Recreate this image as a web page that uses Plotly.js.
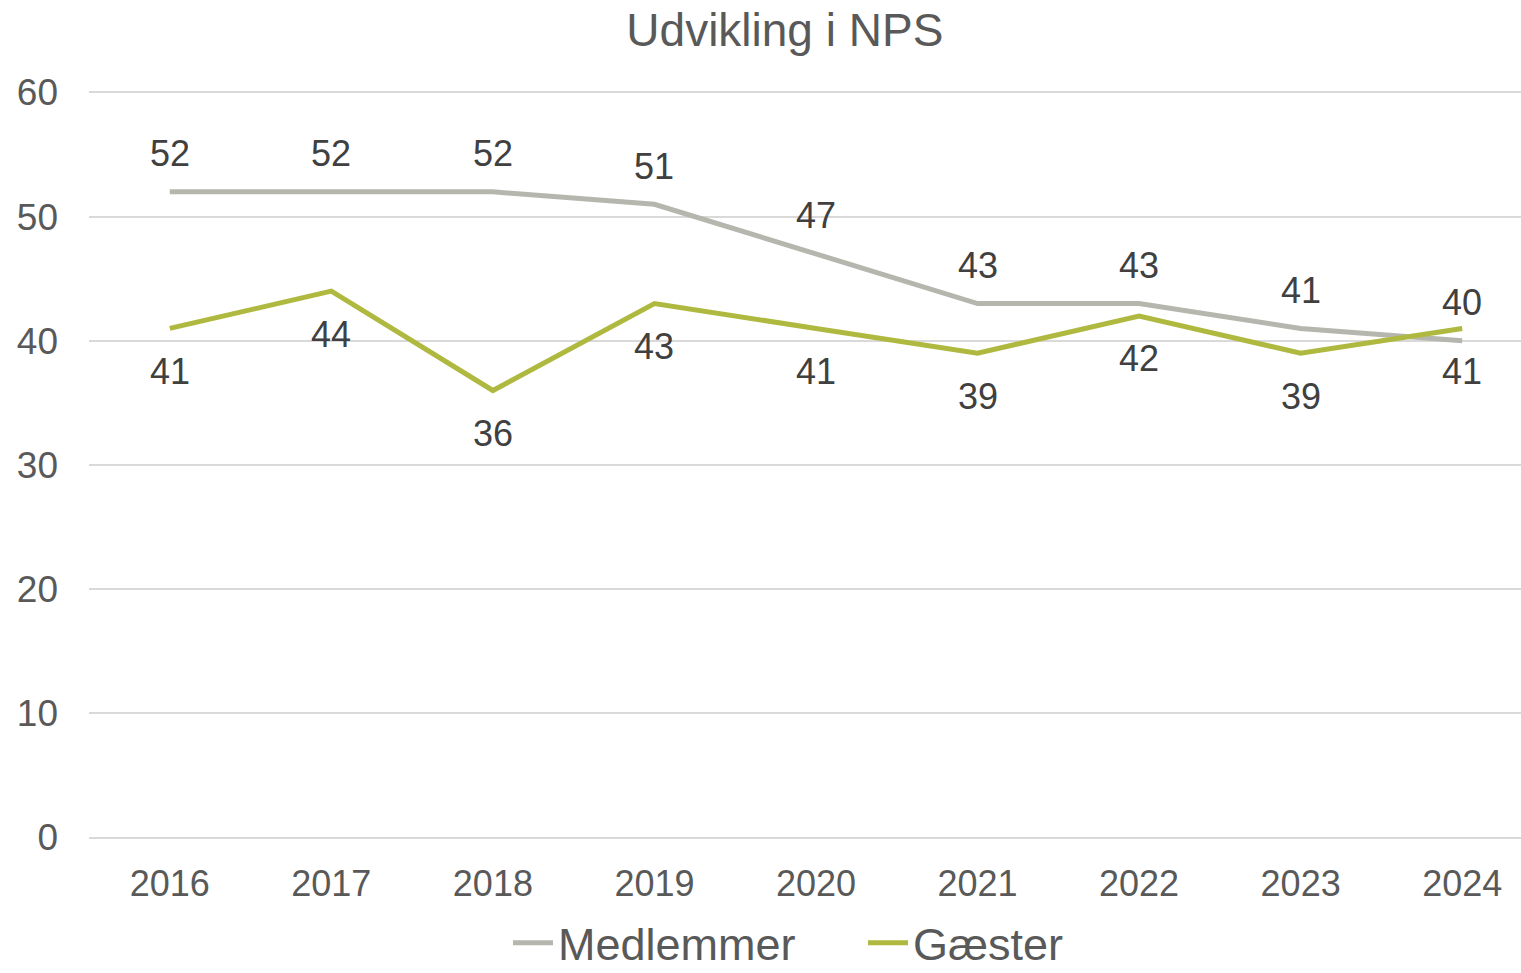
<!DOCTYPE html>
<html>
<head>
<meta charset="utf-8">
<script src="https://cdn.plot.ly/plotly-3.0.1.min.js"></script>
<style>html,body{margin:0;padding:0;background:#fff;}#chart{width:1521px;height:973px;}</style>
</head>
<body>
<div id="chart"></div>
<script>
const years = ["2016","2017","2018","2019","2020","2021","2022","2023","2024"];
const medlemmer = [52,52,52,51,47,43,43,41,40];
const gaester = [41,44,36,43,41,39,42,39,41];
const yTicks = [0,10,20,30,40,50,60];

const FONT = "Liberation Sans, Arial, sans-serif";
const grayC = "#b5b6ad";
const greenC = "#afb940";

const traces = [
  {x: years, y: medlemmer, name: "Medlemmer", type: "scatter", mode: "lines",
   line: {color: grayC, width: 5}, hoverinfo: "skip"},
  {x: years, y: gaester, name: "Gæster", type: "scatter", mode: "lines",
   line: {color: greenC, width: 5}, hoverinfo: "skip"}
];

const annotations = [];
years.forEach((yr, i) => {
  annotations.push({x: i, y: medlemmer[i], xref: "x", yref: "y", text: String(medlemmer[i]),
    showarrow: false, yshift: 38, font: {family: FONT, size: 36, color: "#404040"}});
  annotations.push({x: i, y: gaester[i], xref: "x", yref: "y", text: String(gaester[i]),
    showarrow: false, yshift: -43, font: {family: FONT, size: 36, color: "#404040"}});
});

const layout = {
  width: 1521, height: 973,
  margin: {l: 89, r: 0, t: 90, b: 133},
  paper_bgcolor: "#fff", plot_bgcolor: "#fff",
  font: {family: FONT, color: "#595959"},
  title: {text: "Udvikling i NPS", x: 0.516, xref: "container", xanchor: "center",
          y: 1 - 30/973, yref: "container", yanchor: "middle",
          font: {family: FONT, size: 46, color: "#595959"}},
  xaxis: {type: "category", range: [-0.5, 8.364], showgrid: false, zeroline: false,
          showline: false, ticks: "", tickfont: {family: FONT, size: 36, color: "#595959"},
          ticklabelstandoff: 19, fixedrange: true},
  yaxis: {range: [-0.2, 60.2], tickvals: yTicks, ticktext: yTicks.map(String), showgrid: true,
          gridcolor: "#d9d9d9", gridwidth: 2, zeroline: false, showline: false, ticks: "",
          tickfont: {family: FONT, size: 37, color: "#595959"}, ticklabelstandoff: 30,
          fixedrange: true},
  showlegend: true,
  legend: {orientation: "h", xref: "container", yref: "container", x: 0.334, xanchor: "left",
           y: 1 - 943/973, yanchor: "middle", font: {family: FONT, size: 45, color: "#595959"},
           itemwidth: 40, entrywidth: 300, traceorder: "normal", bgcolor: "rgba(0,0,0,0)"},
  annotations: annotations
};

Plotly.newPlot("chart", traces, layout, {staticPlot: true, displayModeBar: false});
</script>
</body>
</html>
